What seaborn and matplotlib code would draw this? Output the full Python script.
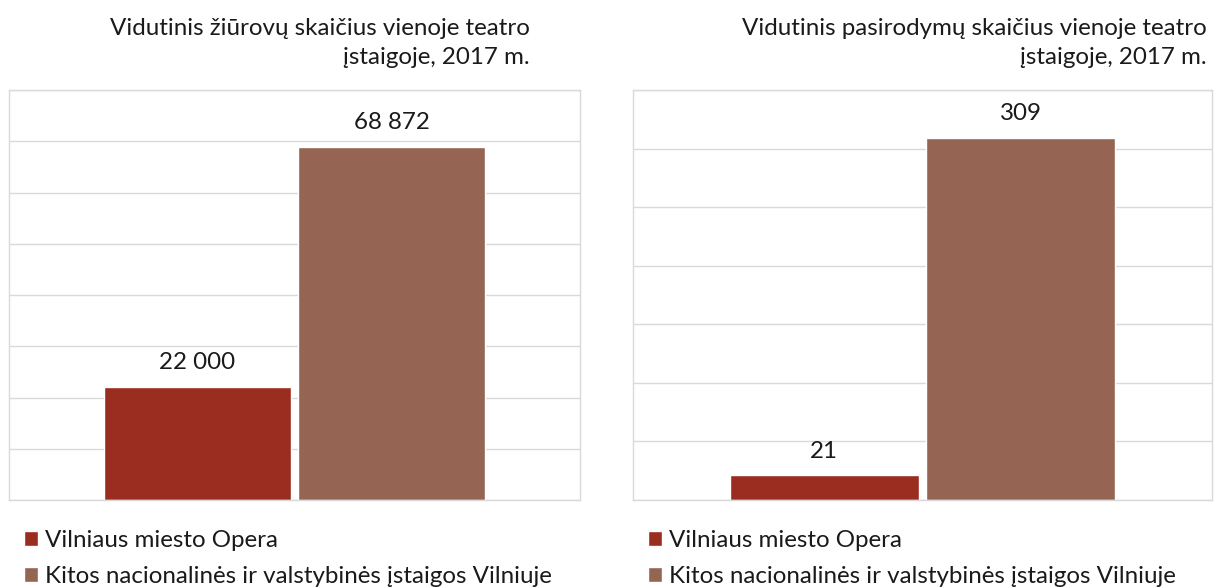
import pandas as pd
import matplotlib.pyplot as plt
import seaborn as sns

series = ['Vilniaus miesto Opera', 'Kitos nacionalinės ir valstybinės įstaigos Vilniuje']
viewers = [22000, 68872]
shows = [21, 309]
titles = ['Vidutinis žiūrovų skaičius vienoje teatro\nįstaigoje, 2017 m.',
          'Vidutinis pasirodymų skaičius vienoje teatro\nįstaigoje, 2017 m.']
ylims = [80000, 350]
ysteps = [10000, 50]

colors = ['#9B2D20', '#966452']
grid_color = '#D9D9D9'
text_color = '#1a1a1a'

sns.set_style('white')
plt.rcParams['font.family'] = ['Lato', 'DejaVu Sans']

fig = plt.figure(figsize=(12.19, 5.88), dpi=100)
ax_pos = [[9 / 1219, 1 - 500 / 588, 571 / 1219, 410 / 588],
          [633 / 1219, 1 - 500 / 588, 579 / 1219, 410 / 588]]
# right edge of the titles in figure px
title_right = [530, 1207]

for i, values in enumerate([viewers, shows]):
    ax = fig.add_axes(ax_pos[i])
    df = pd.DataFrame({'grp': ['a', 'a'], 'series': series, 'value': values})
    sns.barplot(data=df, x='grp', y='value', hue='series', palette=colors,
                width=0.68, gap=0.04, ax=ax, legend=True, saturation=1)
    ax.set_xlim(-0.5, 0.5)
    ax.set_ylim(0, ylims[i])
    ax.set_yticks(range(0, ylims[i] + 1, ysteps[i]))
    ax.yaxis.grid(True, color=grid_color, linewidth=1)
    ax.set_axisbelow(True)
    ax.tick_params(left=False, bottom=False, labelleft=False, labelbottom=False)
    ax.set_xlabel('')
    ax.set_ylabel('')
    for sp in ax.spines.values():
        sp.set_visible(True)
        sp.set_color(grid_color)
        sp.set_linewidth(1)
    for cont in ax.containers:
        labels = [f'{v:,.0f}'.replace(',', ' ') for v in cont.datavalues]
        ax.bar_label(cont, labels=labels, padding=10, fontsize=17.4,
                     color=text_color)
    fig.text(title_right[i] / 1219, 1 - 18 / 588, titles[i], ha='right', va='top',
             fontsize=17.4, color=text_color, linespacing=1.45)
    leg = ax.legend(loc='upper left', bbox_to_anchor=(0.01, -0.05), frameon=False,
                    handlelength=0.55, handleheight=0.55,
                    handletextpad=0.3, labelspacing=0.62, borderaxespad=0,
                    prop={'size': 17.4})
    for t in leg.get_texts():
        t.set_color(text_color)

fig.savefig('out.png', dpi=100)
